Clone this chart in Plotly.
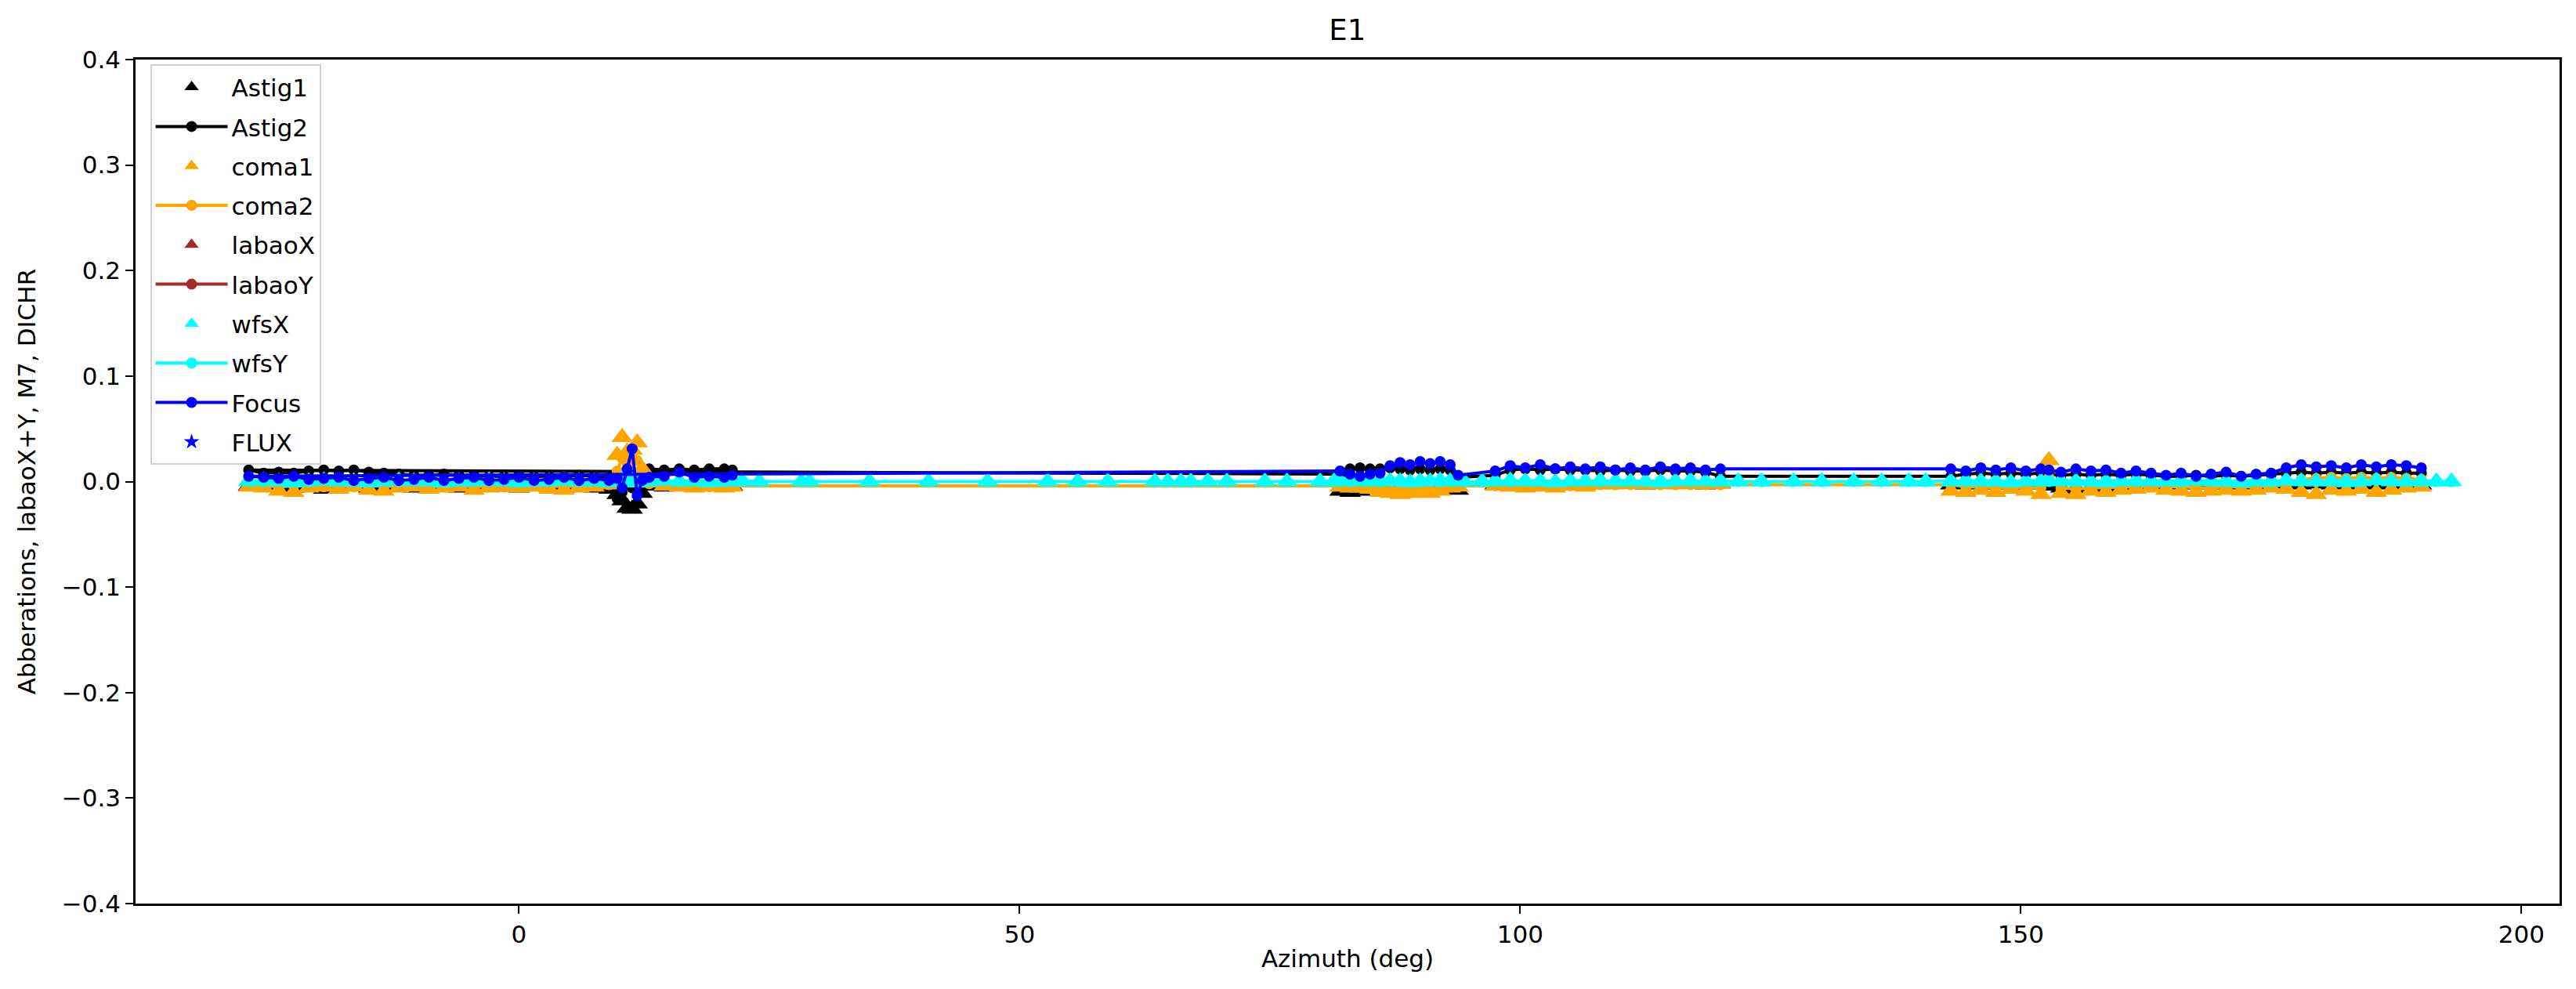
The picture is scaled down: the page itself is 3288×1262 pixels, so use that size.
import plotly.graph_objects as go

# ---------------- data ----------------
# azimuth in data (time) order: first block runs downward, the rest upward
azimuth = [
    21.3, 20.5, 19.0, 17.5, 16.0, 14.5, 13.0, 12.3, 11.8, 11.3, 10.8, 10.3, 9.8, 9.0,
    7.5, 6.0, 4.5, 3.0, 1.5, 0.0, -1.5, -3.0, -4.5, -6.0, -7.5, -9.0, -10.5, -12.0,
    -13.5, -15.0, -16.5, -18.0, -19.5, -21.0, -22.5, -24.0, -25.5, -27.0,
    82.0, 83.0, 84.0, 85.0, 86.0, 87.0, 88.0, 89.0, 90.0, 91.0, 92.0, 93.0, 93.8,
    97.5, 99.0, 100.5, 102.0, 103.5, 105.0, 106.5, 108.0, 109.5, 111.0, 112.5, 114.0,
    115.5, 117.0, 118.5, 120.0,
    143.0, 144.5, 146.0, 147.5, 149.0, 150.5, 152.0, 152.8, 154.0, 155.5, 157.0, 158.5,
    160.0, 161.5, 163.0, 164.5, 166.0, 167.5, 169.0, 170.5, 172.0, 173.5, 175.0, 176.5,
    178.0, 179.5, 181.0, 182.5, 184.0, 185.5, 187.0, 188.5, 190.0,
]

astig1 = [
    -0.004, -0.005, -0.004, -0.005, -0.004, -0.005, -0.004, -0.011, -0.021, -0.026, -0.025, -0.018, -0.012, -0.007,
    -0.006, -0.005, -0.006, -0.005, -0.004, -0.006, -0.005, -0.004, -0.005, -0.006, -0.004, -0.005, -0.006, -0.004,
    -0.005, -0.006, -0.004, -0.005, -0.007, -0.004, -0.006, -0.003, -0.005, -0.004,
    -0.009, -0.010, -0.009, -0.006, -0.004, -0.003, -0.003, -0.003, -0.002, -0.003, -0.003, -0.006, -0.008,
    -0.003, -0.002, -0.002, -0.003, -0.002, -0.002, -0.003, -0.002, -0.002, -0.002, -0.003, -0.002,
    -0.002, -0.002, -0.003, -0.002,
    -0.003, -0.002, -0.003, -0.002, -0.003, -0.002, -0.003, -0.004, -0.006, -0.007, -0.006, -0.007,
    -0.005, -0.004, -0.003, -0.002, -0.003, -0.002, -0.003, -0.002, -0.003, -0.002, -0.003, -0.002,
    -0.003, -0.002, -0.003, -0.002, -0.003, -0.002, -0.003, -0.002, -0.003,
]

astig2 = [
    0.011, 0.012, 0.012, 0.011, 0.012, 0.011, 0.012, 0.008, 0.004, -0.006, 0.002, -0.010, -0.016, 0.004,
    0.005, 0.006, 0.005, 0.005, 0.005, 0.006, 0.005, 0.005, 0.006, 0.006, 0.007, 0.006, 0.006, 0.007,
    0.008, 0.009, 0.011, 0.010, 0.011, 0.010, 0.008, 0.009, 0.008, 0.011,
    0.007, 0.012, 0.013, 0.012, 0.012, 0.013, 0.012, 0.011, 0.012, 0.011, 0.012, 0.011, 0.004,
    0.006, 0.011, 0.012, 0.011, 0.012, 0.011, 0.011, 0.010, 0.011, 0.010, 0.010, 0.011,
    0.010, 0.010, 0.009, 0.005,
    0.005, 0.007, 0.008, 0.007, 0.008, 0.007, 0.008, 0.007, 0.006, 0.007, 0.006, 0.007,
    0.006, 0.007, 0.006, 0.005, 0.005, 0.006, 0.005, 0.006, 0.005, 0.006, 0.007, 0.008,
    0.009, 0.008, 0.009, 0.008, 0.009, 0.008, 0.009, 0.008, 0.008,
]

coma1 = [
    -0.005, -0.006, -0.005, -0.006, -0.005, -0.004, -0.001, 0.012, 0.037, 0.030, 0.028, 0.042, 0.025, -0.003,
    -0.005, -0.006, -0.008, -0.007, -0.005, -0.006, -0.005, -0.006, -0.008, -0.005, -0.006, -0.007, -0.005, -0.006,
    -0.009, -0.008, -0.005, -0.007, -0.005, -0.006, -0.010, -0.009, -0.006, -0.005,
    -0.005, -0.006, -0.006, -0.007, -0.010, -0.011, -0.012, -0.011, -0.010, -0.011, -0.009, -0.006, -0.005,
    -0.004, -0.005, -0.006, -0.005, -0.006, -0.004, -0.005, -0.003, -0.003, -0.002, -0.003, -0.002,
    -0.003, -0.002, -0.003, -0.002,
    -0.009, -0.010, -0.008, -0.010, -0.007, -0.009, -0.012, 0.020, -0.011, -0.012, -0.009, -0.010,
    -0.008, -0.007, -0.006, -0.008, -0.009, -0.010, -0.009, -0.008, -0.009, -0.008, -0.006, -0.007,
    -0.010, -0.012, -0.008, -0.009, -0.007, -0.010, -0.008, -0.006, -0.005,
]

coma2 = [
    -0.004, -0.004, -0.005, -0.004, -0.004, -0.003, -0.002, 0.006, 0.020, 0.024, 0.018, 0.022, 0.010, -0.003,
    -0.004, -0.005, -0.004, -0.005, -0.004, -0.004, -0.005, -0.004, -0.005, -0.004, -0.004, -0.005, -0.004, -0.005,
    -0.004, -0.004, -0.005, -0.004, -0.005, -0.004, -0.004, -0.005, -0.004, -0.004,
    -0.004, -0.004, -0.005, -0.005, -0.006, -0.007, -0.007, -0.006, -0.006, -0.007, -0.006, -0.005, -0.004,
    -0.004, -0.004, -0.005, -0.004, -0.005, -0.004, -0.004, -0.003, -0.003, -0.003, -0.003, -0.003,
    -0.003, -0.003, -0.003, -0.003,
    -0.003, -0.005, -0.005, -0.006, -0.005, -0.006, -0.006, 0.004, -0.006, -0.007, -0.006, -0.006,
    -0.005, -0.005, -0.004, -0.005, -0.005, -0.006, -0.006, -0.005, -0.005, -0.005, -0.004, -0.003,
    0.002, 0.003, 0.004, 0.003, 0.004, 0.003, 0.004, 0.003, 0.002,
]

focus = [
    0.006, 0.004, 0.005, 0.004, 0.009, 0.005, 0.004, 0.001, -0.013, 0.031, 0.012, -0.006, 0.003, 0.001,
    0.003, 0.001, 0.004, 0.002, 0.001, 0.004, 0.002, 0.001, 0.004, 0.003, 0.001, 0.004, 0.002, 0.001,
    0.004, 0.003, 0.001, 0.004, 0.003, 0.002, 0.005, 0.003, 0.004, 0.005,
    0.010, 0.007, 0.005, 0.007, 0.008, 0.015, 0.018, 0.016, 0.019, 0.017, 0.019, 0.016, 0.006,
    0.010, 0.015, 0.013, 0.016, 0.012, 0.014, 0.012, 0.014, 0.011, 0.013, 0.011, 0.014,
    0.012, 0.013, 0.011, 0.012,
    0.012, 0.010, 0.013, 0.011, 0.013, 0.010, 0.012, 0.011, 0.009, 0.012, 0.010, 0.011,
    0.008, 0.010, 0.008, 0.006, 0.008, 0.005, 0.007, 0.009, 0.005, 0.007, 0.008, 0.013,
    0.016, 0.014, 0.015, 0.013, 0.016, 0.014, 0.016, 0.015, 0.013,
]

# wavefront-sensor series have their own (ascending) azimuth samples
wfs_azimuth = [
    -27.0, -25.5, -24.0, -22.5, -21.0, -19.5, -18.0, -16.5, -15.0, -13.5, -12.0, -10.5,
    -9.0, -7.5, -6.0, -4.5, -3.0, -1.5, 0.0, 1.5, 3.0, 4.5, 6.0, 7.5, 9.0, 9.8, 10.3,
    10.8, 11.3, 11.8, 12.3, 13.0, 14.5, 16.0, 17.5, 19.0, 20.5, 21.3,
    22.3, 24.0, 28.2, 29.0, 35.0, 40.9, 46.8, 52.8, 55.8, 58.8, 63.5, 64.8, 66.1, 67.1,
    68.8, 70.7, 74.5, 76.7, 80.0, 81.4,
    82.0, 83.0, 84.0, 85.0, 86.0, 87.0, 88.0, 89.0, 90.0, 91.0, 92.0, 93.0, 93.8,
    94.4, 96.2,
    97.5, 99.0, 100.5, 102.0, 103.5, 105.0, 106.5, 108.0, 109.5, 111.0, 112.5, 114.0,
    115.5, 117.0, 118.5, 120.0,
    121.8, 124.1, 127.3, 130.1, 133.3, 136.1, 138.8, 140.5,
    143.0, 144.5, 146.0, 147.5, 149.0, 150.5, 152.0, 152.8, 154.0, 155.5, 157.0, 158.5,
    160.0, 161.5, 163.0, 164.5, 166.0, 167.5, 169.0, 170.5, 172.0, 173.5, 175.0, 176.5,
    178.0, 179.5, 181.0, 182.5, 184.0, 185.5, 187.0, 188.5, 190.0,
    191.5, 193.0,
]

wfs_x = [
    0.000, 0.001, 0.000, -0.001, 0.000, 0.001, 0.000, 0.000, -0.001, 0.000, 0.001, 0.000,
    0.000, -0.001, 0.000, 0.000, 0.001, 0.000, -0.001, 0.000, 0.000, 0.001, 0.000, 0.000,
    -0.001, 0.000, 0.002, 0.001, 0.000, -0.001, 0.000, 0.000, 0.001, 0.000, 0.000, -0.001,
    0.000, 0.000,
    0.000, 0.000, 0.000, 0.000, 0.000, 0.000, 0.000, 0.000, 0.000, 0.000, 0.000, 0.000,
    0.000, 0.000, 0.000, 0.000, 0.000, 0.000, 0.000, 0.000,
    0.000, 0.001, 0.000, 0.000, 0.001, 0.000, 0.000, -0.001, 0.000, 0.000, 0.001, 0.000, 0.000,
    0.000, 0.000,
    0.000, 0.001, 0.000, 0.000, -0.001, 0.000, 0.000, 0.001, 0.000, 0.000, 0.000, -0.001,
    0.000, 0.001, 0.000, 0.000,
    0.000, 0.000, 0.000, 0.000, 0.000, 0.000, 0.000, 0.000,
    0.000, 0.001, 0.000, 0.000, -0.001, 0.000, 0.000, 0.001, 0.000, 0.000, 0.000, -0.001,
    0.000, 0.001, 0.000, 0.000, 0.000, 0.001, 0.000, 0.000, -0.001, 0.000, 0.000, 0.001,
    0.000, 0.000, 0.000, -0.001, 0.000, 0.001, 0.000, 0.000, 0.000,
    0.000, 0.000,
]

wfs_y = [
    0.001, 0.000, 0.001, 0.001, 0.000, 0.001, 0.001, 0.000, 0.001, 0.001, 0.000, 0.001,
    0.001, 0.000, 0.001, 0.001, 0.000, 0.001, 0.001, 0.000, 0.001, 0.001, 0.000, 0.001,
    0.001, 0.002, 0.001, 0.000, 0.001, 0.001, 0.000, 0.001, 0.001, 0.000, 0.001, 0.001,
    0.000, 0.001,
    0.001, 0.000, 0.000, 0.000, 0.000, 0.000, 0.000, 0.000, 0.000, 0.000, 0.000, 0.000,
    0.000, 0.000, 0.000, 0.000, 0.000, 0.000, 0.000, 0.001,
    0.001, 0.000, 0.001, 0.001, 0.000, 0.001, 0.001, 0.000, 0.001, 0.001, 0.000, 0.001, 0.001,
    0.000, 0.000,
    0.001, 0.000, 0.001, 0.001, 0.000, 0.001, 0.001, 0.000, 0.001, 0.001, 0.000, 0.001,
    0.001, 0.000, 0.001, 0.001,
    0.000, 0.000, 0.000, 0.000, 0.000, 0.000, 0.000, 0.000,
    0.001, 0.000, 0.001, 0.001, 0.000, 0.001, 0.001, 0.000, 0.001, 0.001, 0.000, 0.001,
    0.001, 0.000, 0.001, 0.001, 0.000, 0.001, 0.001, 0.000, 0.001, 0.001, 0.000, 0.001,
    0.001, 0.000, 0.001, 0.001, 0.000, 0.001, 0.001, 0.000, 0.001,
    0.000, 0.000,
]

# series with no valid samples in this night (legend entries only)
labao_x_az, labao_x = [None], [None]
labao_y_az, labao_y = [None], [None]
flux_az, flux = [None], [None]

x_ticks = [0, 50, 100, 150, 200]
y_ticks = [-0.4, -0.3, -0.2, -0.1, 0.0, 0.1, 0.2, 0.3, 0.4]

# ---------------- styling ----------------
FONT = "DejaVu Sans"
TRI = 24
DOT = 14
LW = 4

fig = go.Figure()

def tri(name, x, y, color):
    fig.add_trace(go.Scatter(x=x, y=y, name=name, mode="markers", legendgroup=name,
                             marker=dict(symbol="triangle-up", size=TRI, color=color,
                                         line=dict(width=0))))

def line(name, x, y, color):
    fig.add_trace(go.Scatter(x=x, y=y, name=name, mode="lines+markers", legendgroup=name,
                             line=dict(color=color, width=LW),
                             marker=dict(symbol="circle", size=DOT, color=color,
                                         line=dict(width=0))))

tri("Astig1", azimuth, astig1, "#000000")
line("Astig2", azimuth, astig2, "#000000")
tri("coma1", azimuth, coma1, "#FFA500")
line("coma2", azimuth, coma2, "#FFA500")
tri("labaoX", labao_x_az, labao_x, "#A52A2A")
line("labaoY", labao_y_az, labao_y, "#A52A2A")
tri("wfsX", wfs_azimuth, wfs_x, "#00FFFF")
line("wfsY", wfs_azimuth, wfs_y, "#00FFFF")
line("Focus", azimuth, focus, "#0000FF")
fig.add_trace(go.Scatter(x=flux_az, y=flux, name="FLUX", mode="markers", legendgroup="FLUX",
                         marker=dict(symbol="star", size=15, color="#0000FF", line=dict(width=0))))

axis_common = dict(showline=True, linecolor="black", linewidth=2.5, mirror=True,
                   ticks="outside", ticklen=10, tickwidth=2, tickcolor="black",
                   showgrid=False, zeroline=False,
                   tickfont=dict(family=FONT, size=31, color="black"))

fig.update_layout(
    width=3288, height=1262,
    margin=dict(l=165, r=29, t=68, b=117),
    paper_bgcolor="white", plot_bgcolor="white",
    font=dict(family=FONT, size=31, color="black"),
    title=dict(text="E1", x=0.5206, xanchor="center", y=1 - 30 / 1262, yanchor="middle",
               font=dict(family=FONT, size=37, color="black")),
    xaxis=dict(range=[-38.3, 203.8], tickvals=x_ticks,
               title=dict(text="Azimuth (deg)", standoff=4,
                          font=dict(family=FONT, size=31, color="black")),
               **axis_common),
    yaxis=dict(range=[-0.4, 0.4], tickvals=y_ticks, tickformat=".1f",
               title=dict(text="Abberations, labaoX+Y, M7, DICHR", standoff=24,
                          font=dict(family=FONT, size=31, color="black")),
               **axis_common),
    legend=dict(x=0.006, y=0.994, xanchor="left", yanchor="top",
                bgcolor="rgba(255,255,255,0.8)", bordercolor="#d0d0d0", borderwidth=2,
                font=dict(family=FONT, size=31, color="black"),
                traceorder="grouped", tracegroupgap=7, itemwidth=92, itemsizing="trace"),
    showlegend=True,
    hovermode=False,
)

fig.write_html("out.html")
